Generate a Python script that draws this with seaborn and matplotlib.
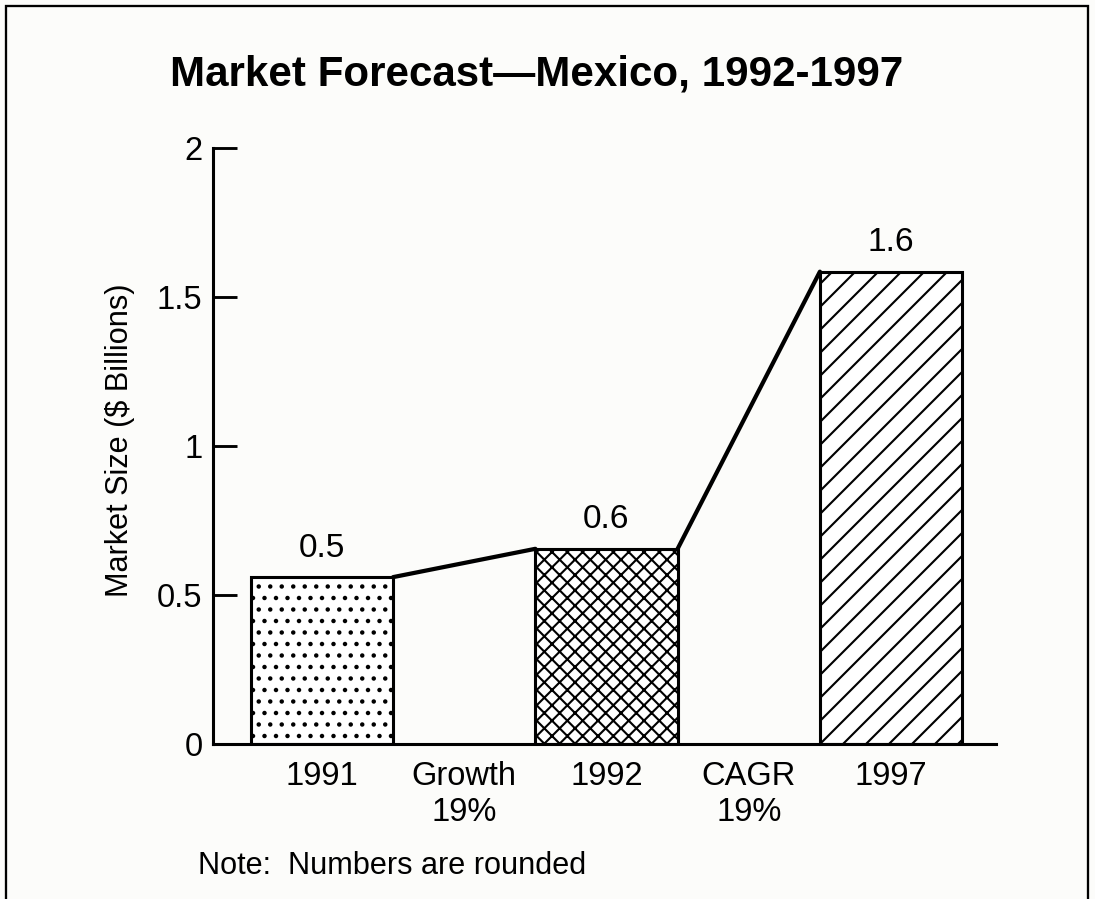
import matplotlib
matplotlib.use("Agg")
import matplotlib.pyplot as plt
import seaborn as sns
import pandas as pd
from matplotlib.patches import Rectangle

# values
years = ["1991", "1992", "1997"]
market_size = [0.56, 0.655, 1.585]
value_labels = ["0.5", "0.6", "1.6"]
slot_order = ["1991", "Growth", "1992", "CAGR", "1997"]
slot_labels = ["1991", "Growth\n19%", "1992", "CAGR\n19%", "1997"]
bar_hatches = ["..", "xxx", "//"]
y_ticks = [0, 0.5, 1, 1.5, 2]
y_tick_labels = ["0", "0.5", "1", "1.5", "2"]

sns.set_theme(style="ticks")
plt.rcParams["font.family"] = ["Liberation Sans", "DejaVu Sans"]
plt.rcParams["text.color"] = "black"
plt.rcParams["axes.labelcolor"] = "black"
plt.rcParams["hatch.linewidth"] = 1.1
plt.rcParams["hatch.color"] = "black"

BG = "#fcfcfa"
W, H, DPI = 1095, 899, 138
fig = plt.figure(figsize=(W / DPI, H / DPI), dpi=DPI, facecolor=BG)
ax = fig.add_axes([213 / W, 155 / H, (996 - 213) / W, (744 - 148) / H])
ax.set_facecolor(BG)

df = pd.DataFrame({"year": years, "size": market_size})
sns.barplot(data=df, x="year", y="size", order=slot_order, width=1.0,
            color="white", saturation=1, edgecolor="black", linewidth=1.6,
            errorbar=None, ax=ax)

bars = list(ax.patches)
for patch, h in zip(bars, bar_hatches):
    patch.set_hatch(h)

# connector lines between bar tops
for left, right in zip(bars[:-1], bars[1:]):
    ax.plot([left.get_x() + left.get_width(), right.get_x()],
            [left.get_height(), right.get_height()],
            color="black", lw=2.2, solid_capstyle="round")

ax.bar_label(ax.containers[0], labels=value_labels, padding=7, fontsize=17.5,
             color="black")

ax.set_xlim(-0.766, 4.738)
ax.set_ylim(0, 2)
ax.set_yticks(y_ticks, y_tick_labels)
ax.set_xticks(range(len(slot_labels)), slot_labels)
ax.tick_params(axis="y", direction="in", length=12.5, width=1.5, pad=5.5,
               labelsize=17, colors="black")
ax.tick_params(axis="x", length=0, pad=9, labelsize=17, colors="black")
ax.set_xlabel("")
ax.set_ylabel("Market Size ($ Billions)", fontsize=16)
ax.yaxis.set_label_coords(-0.1, 0.51)
sns.despine(ax=ax)
for s in ["left", "bottom"]:
    ax.spines[s].set_linewidth(1.6)
    ax.spines[s].set_color("black")

fig.text(0.49, 1 - 75 / H, "Market Forecast\u2014Mexico, 1992-1997",
         ha="center", va="center", fontsize=22, fontweight="bold")
fig.text(198 / W, 1 - 866 / H, "Note:  Numbers are rounded",
         ha="left", va="center", fontsize=16)

fig.add_artist(Rectangle((6 / W, -0.05), 1082 / W, 0.05 + 1 - 6 / H,
                         transform=fig.transFigure, fill=False,
                         lw=1.2, ec="black"))

fig.savefig("out.png", dpi=DPI, facecolor=BG)
